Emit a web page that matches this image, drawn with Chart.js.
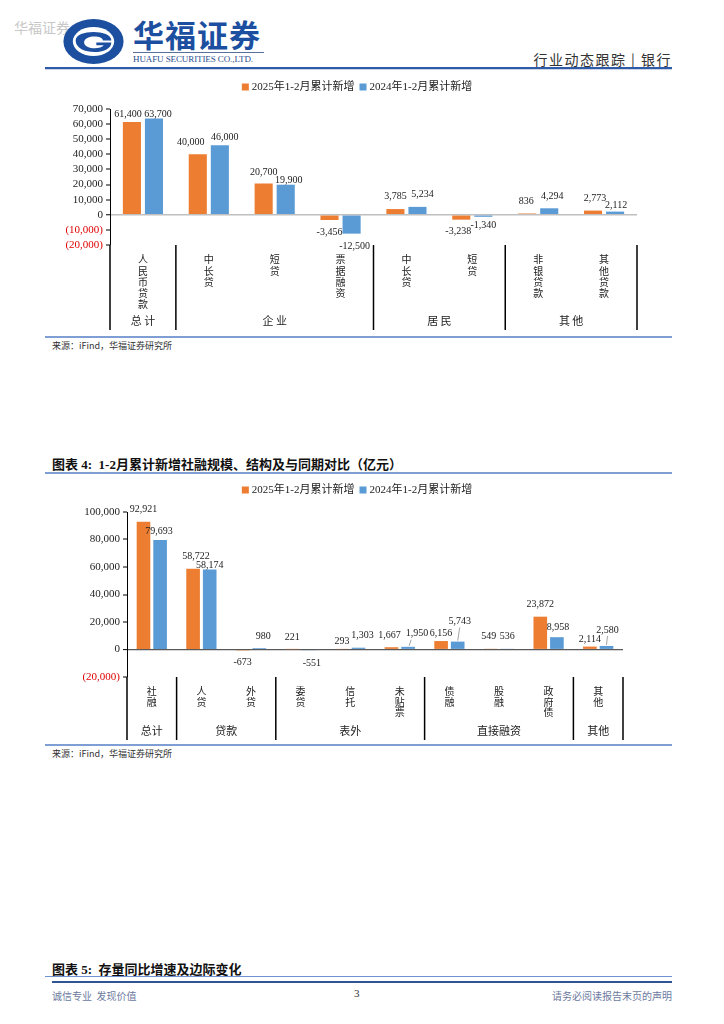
<!DOCTYPE html>
<html lang="zh-CN">
<head>
<meta charset="utf-8">
<title>华福证券 行业动态跟踪 银行</title>
<script src="https://cdn.jsdelivr.net/npm/chart.js@4.4.1/dist/chart.umd.min.js"></script>
<style>
  html, body { margin: 0; padding: 0; background: #fff; }
  #page { position: relative; width: 724px; height: 1024px; overflow: hidden;
          font-family: 'Liberation Serif', 'Noto Sans CJK SC', serif; color: #222; }
  .abs { position: absolute; white-space: nowrap; }
  canvas { position: absolute; }
</style>
</head>
<body>
<div id="page">
  <!-- header -->
  <div class="abs" style="left:14px;top:17px;font-size:14px;color:#c8c8c8;font-family:'Noto Sans CJK SC';">华福证券</div>
  <svg class="abs" style="left:62px;top:18px" width="63" height="47" viewBox="0 0 66 50">
    <ellipse cx="33" cy="25" rx="32" ry="24" fill="#1c4f9f"/>
    <ellipse cx="33" cy="25" rx="22" ry="15.5" fill="#fff"/>
    <path d="M14 24 C14 12 52 12 52 24 L43 24 C43 18 23 18 23 26 C23 33 40 34 44 29 L36 29 L36 26 L52 26 C52 40 14 40 14 24 Z" fill="#1c4f9f"/>
  </svg>
  <div class="abs" style="left:133px;top:17px;font-size:31px;line-height:34px;font-weight:bold;color:#1c4f9f;font-family:'Noto Sans CJK SC';letter-spacing:1px;">华福证券</div>
  <div class="abs" style="left:133px;top:52px;width:131px;height:1px;background:#5a6f9a;"></div>
  <div class="abs" style="left:133px;top:54px;font-size:9px;line-height:10px;color:#2a4f8f;letter-spacing:-0.1px;">HUAFU SECURITIES CO.,LTD.</div>
  <div class="abs" style="right:52px;top:49px;font-size:14px;color:#333;font-family:'Noto Sans CJK SC';letter-spacing:1.5px;">行业动态跟踪&nbsp;|&nbsp;银行</div>
  <div class="abs" style="left:45px;top:67px;width:627px;height:2px;background:#2f5aa6;"></div>
  <div class="abs" style="left:45px;top:69px;width:627px;height:1px;background:#c9d4ea;"></div>

  <canvas id="loanChart" width="627" height="255" style="left:45px;top:75px;"></canvas>
  <div class="abs" style="left:45px;top:336px;width:627px;height:2px;background:#7f9fd4;"></div>
  <div class="abs" style="left:52px;top:339px;font-size:9px;color:#333;font-family:'Noto Sans CJK SC';">来源：iFind，华福证券研究所</div>

  <div class="abs" style="left:52px;top:454px;font-size:13px;font-weight:bold;color:#111;font-family:'Liberation Serif','Noto Sans CJK SC';">图表 4:&nbsp; 1-2月累计新增社融规模、结构及与同期对比（亿元）</div>
  <div class="abs" style="left:45px;top:472px;width:627px;height:2px;background:#7f9fd4;"></div>

  <canvas id="tsfChart" width="627" height="262" style="left:45px;top:478px;"></canvas>
  <div class="abs" style="left:45px;top:744px;width:627px;height:2px;background:#7f9fd4;"></div>
  <div class="abs" style="left:52px;top:747px;font-size:9px;color:#333;font-family:'Noto Sans CJK SC';">来源：iFind，华福证券研究所</div>

  <div class="abs" style="left:52px;top:959px;font-size:13px;font-weight:bold;color:#111;font-family:'Liberation Serif','Noto Sans CJK SC';">图表 5:&nbsp; 存量同比增速及边际变化</div>
  <div class="abs" style="left:45px;top:976px;width:627px;height:1px;background:#6f93d0;"></div>
  <div class="abs" style="left:52px;top:981px;width:620px;height:2px;background:#2f5597;"></div>
  <div class="abs" style="left:52px;top:988px;font-size:10px;color:#6c7aa0;font-family:'Noto Sans CJK SC';">诚信专业&nbsp;&nbsp;发现价值</div>
  <div class="abs" style="left:354px;top:987px;font-size:11px;color:#333;">3</div>
  <div class="abs" style="right:52px;top:988px;font-size:10px;color:#6c7aa0;font-family:'Noto Sans CJK SC';">请务必阅读报告末页的声明</div>
</div>

<script>
// ---- chart 1: 新增人民币贷款 ----
const loanCategories = ['人民币贷款', '中长贷', '短贷', '票据融资', '中长贷', '短贷', '非银贷款', '其他贷款'];
const loanGroupNames = ['总计', '企业', '居民', '其他'];
const loanGroupSizes = [1, 3, 2, 2];
const loan2025 = [61400, 40000, 20700, -3456, 3785, -3238, 836, 2773];
const loan2024 = [63700, 46000, 19900, -12500, 5234, -1340, 4294, 2112];
const loanYRange = [-20000, 70000];
const loanYStep = 10000;

// ---- chart 2: 新增社融 ----
const tsfCategories = ['社融', '人贷', '外贷', '委贷', '信托', '未贴票', '债融', '股融', '政府债', '其他'];
const tsfGroupNames = ['总计', '贷款', '表外', '直接融资', '其他'];
const tsfGroupSizes = [1, 2, 3, 3, 1];
const tsf2025 = [92921, 58722, -673, 221, 293, 1667, 6156, 549, 23872, 2114];
const tsf2024 = [79693, 58174, 980, -551, 1303, 1950, 5743, 536, 8958, 2580];
const tsfYRange = [-20000, 100000];
const tsfYStep = 20000;

const seriesNames = ['2025年1-2月累计新增', '2024年1-2月累计新增'];
const ORANGE = '#ED7D31';
const BLUE = '#5B9BD5';
const NUM_FONT = "'Liberation Serif', 'Noto Sans CJK SC', serif";
const CJK_FONT = "'Noto Sans CJK SC', sans-serif";

// label nudges [dx, dy] from the bar end (style only, like Excel's hand-placed labels)
const loanNudge = [
  [[-4, -8], [-7, -12], [0, -11], [0, 12], [0, -13], [-3, 12], [-1, -12], [2, -12]],
  [[4, -4], [5, -8], [3, -4], [3, 13], [5, -12], [0, 9], [3, -12], [1, -6]]
];
const tsfNudge = [
  [[0, -12], [3, -12], [0, 12], [0, -12], [0, -8], [-2, -12], [0, -8], [-2, -12], [0, -12], [0, -7]],
  [[-1, -9], [0, -4], [4, -12], [3, 13], [4, -12], [9, -13], [2, -20], [0, -12], [1, -10], [1, -16]]
];
const tsfLeader = [[], [5, 6, 9]];

const fmtNum = v => v.toLocaleString('en-US');

const legendPlugin = {
  id: 'topLegend',
  afterDraw(chart, args, opts) {
    const ctx = chart.ctx;
    ctx.save();
    ctx.font = '11px ' + NUM_FONT;
    ctx.textBaseline = 'middle';
    const box = 7, gap = 3, itemGap = 5;
    const items = chart.data.datasets.map(d => ({ text: d.label, color: d.backgroundColor, w: ctx.measureText(d.label).width }));
    let total = items.reduce((s, it) => s + box + gap + it.w, 0) + itemGap * (items.length - 1);
    let x = opts.centerX - total / 2;
    items.forEach(it => {
      ctx.fillStyle = it.color;
      ctx.fillRect(x, opts.y - box / 2, box, box);
      ctx.fillStyle = '#222';
      ctx.fillText(it.text, x + box + gap, opts.y + 0.5);
      x += box + gap + it.w + itemGap;
    });
    ctx.restore();
  }
};

const valueLabelPlugin = {
  id: 'valueLabels',
  afterDatasetsDraw(chart, args, opts) {
    const ctx = chart.ctx;
    ctx.save();
    ctx.font = '10px ' + NUM_FONT;
    ctx.fillStyle = '#222';
    ctx.textAlign = 'center';
    ctx.textBaseline = 'middle';
    chart.data.datasets.forEach((ds, di) => {
      chart.getDatasetMeta(di).data.forEach((bar, i) => {
        const [dx, dy] = opts.nudge[di][i];
        const lx = bar.x + dx, ly = bar.y + dy;
        ctx.fillText(fmtNum(ds.data[i]), lx, ly);
        if (opts.leader && opts.leader[di].includes(i)) {
          ctx.strokeStyle = '#8c8c8c';
          ctx.lineWidth = 0.8;
          ctx.beginPath();
          ctx.moveTo(bar.x + (dx > 5 ? 1 : 0), bar.y - 1);
          ctx.lineTo(lx - (dx > 5 ? 6 : 0), ly + 6);
          ctx.stroke();
        }
      });
    });
    ctx.restore();
  }
};

const groupPlugin = {
  id: 'groupAxis',
  afterDraw(chart, args, opts) {
    const { ctx, chartArea } = chart;
    const x = chart.scales.x;
    const half = (x.getPixelForValue(1) - x.getPixelForValue(0)) / 2;
    ctx.save();
    ctx.strokeStyle = '#000';
    ctx.lineWidth = 1.5;
    ctx.fillStyle = '#222';
    ctx.font = '11px ' + CJK_FONT;
    ctx.textAlign = 'center';
    ctx.textBaseline = 'middle';
    let idx = 0;
    const edge = i => x.getPixelForValue(i) - half;
    const line = px => {
      ctx.beginPath();
      ctx.moveTo(px, chartArea.bottom);
      ctx.lineTo(px, chart.height);
      ctx.stroke();
    };
    line(edge(0));
    opts.names.forEach((name, g) => {
      const start = idx, end = idx + opts.sizes[g];
      const left = edge(start), right = edge(end);
      ctx.fillText(name.split('').join(opts.spacing || ''), (left + right) / 2, opts.labelY);
      line(right);
      idx = end;
    });
    ctx.restore();
  }
};

function makeChart(id, cats, s25, s24, range, step, cfg) {
  return new Chart(document.getElementById(id), {
    type: 'bar',
    data: {
      labels: cats,
      datasets: [
        { label: seriesNames[0], data: s25, backgroundColor: ORANGE, categoryPercentage: 0.67, barPercentage: 0.82 },
        { label: seriesNames[1], data: s24, backgroundColor: BLUE, categoryPercentage: 0.67, barPercentage: 0.82 }
      ]
    },
    options: {
      responsive: false,
      animation: false,
      layout: { padding: { top: 34, right: cfg.padRight, left: 0, bottom: 0 } },
      plugins: {
        legend: { display: false },
        tooltip: { enabled: false },
        topLegend: { centerX: 312, y: 12 },
        valueLabels: { nudge: cfg.nudge, leader: cfg.leader },
        groupAxis: { names: cfg.groupNames, sizes: cfg.groupSizes, labelY: cfg.groupY, spacing: cfg.spacing }
      },
      scales: {
        x: {
          grid: { display: false },
          border: { display: false },
          afterFit: s => { s.height = cfg.xHeight; },
          ticks: {
            autoSkip: false, maxRotation: 0, minRotation: 0, padding: cfg.xPad,
            color: '#222',
            font: { family: CJK_FONT, size: 10, lineHeight: cfg.lineH },
            callback: function (v) { return this.getLabelForValue(v).split(''); }
          }
        },
        y: {
          min: range[0], max: range[1],
          afterFit: s => { s.width = cfg.yWidth; },
          border: { display: true, color: '#000', width: 1 },
          grid: {
            drawOnChartArea: true,
            color: c => (c.tick && c.tick.value === 0) ? cfg.zeroColor : 'rgba(0,0,0,0)',
            lineWidth: c => (c.tick && c.tick.value === 0) ? cfg.zeroWidth : 0,
            tickColor: '#000', tickLength: 4, tickWidth: 1
          },
          ticks: {
            stepSize: step, padding: 3, autoSkip: false,
            font: { family: NUM_FONT, size: 11 },
            color: c => c.tick.value < 0 ? '#e00000' : '#222',
            callback: v => v < 0 ? '(' + fmtNum(-v) + ')' : fmtNum(v)
          }
        }
      }
    },
    plugins: [legendPlugin, valueLabelPlugin, groupPlugin]
  });
}

makeChart('loanChart', loanCategories, loan2025, loan2024, loanYRange, loanYStep, {
  padRight: 35, yWidth: 65, xHeight: 85, lineH: 1.12, xPad: 1, groupY: 246, spacing: ' ',
  groupNames: loanGroupNames, groupSizes: loanGroupSizes, nudge: loanNudge, leader: null,
  zeroColor: '#bfbfbf', zeroWidth: 1.5
});

makeChart('tsfChart', tsfCategories, tsf2025, tsf2024, tsfYRange, tsfYStep, {
  padRight: 49, yWidth: 82, xHeight: 63, lineH: 1.05, xPad: 1, groupY: 253, spacing: '',
  groupNames: tsfGroupNames, groupSizes: tsfGroupSizes, nudge: tsfNudge, leader: tsfLeader,
  zeroColor: '#595959', zeroWidth: 1.2
});
</script>
</body>
</html>
